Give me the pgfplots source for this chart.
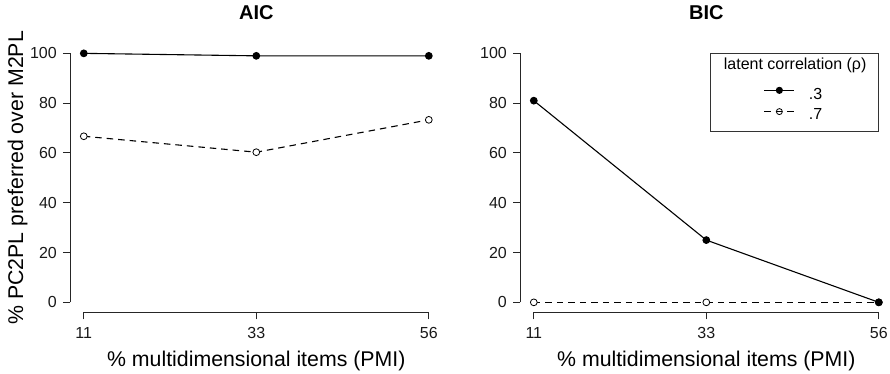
\documentclass[border=0pt]{standalone}
\usepackage{fontspec}
\setmainfont{Liberation Sans}
\usepackage{pgfplots}
\pgfplotsset{compat=1.18}
\pgfplotsset{
  rstyle/.style={
    scale only axis, width=372.6pt, height=268.9pt,
    xmin=-0.08, xmax=2.08, ymin=-4, ymax=104,
    axis x line*=bottom, axis y line*=left,
    axis line style={black!85, line width=0.9pt},
    x axis line style={shorten <=13.8pt, shorten >=13.8pt},
    y axis line style={shorten <=9.96pt, shorten >=9.96pt},
    tick style={black!85, line width=0.9pt},
    tick align=outside, major tick length=7pt,
    xtick={0,1,2}, xticklabels={11,33,56},
    ytick={0,20,40,60,80,100},
    /pgf/number format/assume math mode=true,
    ticklabel style={font=\fontsize{16}{19}\selectfont, text=black!90},
    yticklabel style={anchor=east, inner sep=0pt},
    xticklabel style={anchor=north, inner sep=0pt},
    yticklabel shift=6pt,
    xticklabel shift=7.7pt,
    title style={at={(axis description cs:0.5,1.0684)}, anchor=base, inner sep=0pt, font=\fontsize{20}{24}\selectfont\bfseries},
    xlabel style={at={(axis description cs:0.5,-0.1997)}, anchor=base, inner sep=0pt, font=\fontsize{21.3}{25}\selectfont},
    ylabel style={at={(axis description cs:-0.126,0.5)}, anchor=base, inner sep=0pt, font=\fontsize{21.3}{25}\selectfont},
    xlabel={\% multidimensional items (PMI)},
  },
  solidser/.style={black, line width=1.1pt, mark=*, mark size=3.3pt},
  dashser/.style={black, line width=1.1pt, dash pattern=on 6.5pt off 5pt, mark=*, mark size=3.4pt,
    mark options={solid, fill=white, line width=0.8pt}},
}
\begin{document}
\begin{tikzpicture}
\useasboundingbox (0pt,0pt) rectangle (890pt,374pt);
\begin{axis}[rstyle, at={(70pt,61.7pt)}, anchor=south west,
  title={AIC}, ylabel={\% PC2PL preferred over M2PL}]
\addplot[dashser] coordinates {(0,66.7) (1,60.3) (2,73.3)};
\addplot[solidser] coordinates {(0,100) (1,99) (2,99)};
\end{axis}
\begin{axis}[rstyle, at={(520pt,61.7pt)}, anchor=south west,
  title={BIC},
  legend style={at={(axis cs:2,100)}, anchor=north east, draw=black!80, line width=0.8pt,
    inner xsep=12pt, inner ysep=4.5pt, nodes={inner sep=0pt}, row sep=4pt, column sep=14pt,
    font=\fontsize{16}{19}\selectfont},
  legend cell align=left,
  legend image code/.code={\path (-41pt,5.7pt); \draw[mark repeat=2, mark phase=2, #1, mark size=3pt] plot coordinates {(0pt,5.7pt) (15pt,5.7pt) (30pt,5.7pt)};}]
\addlegendimage{empty legend}
\addlegendentry[text depth=13.5pt]{\hspace*{-85pt}latent correlation (ρ)}
\addlegendimage{solidser}
\addlegendentry[text height=11.5pt, text depth=4.5pt]{.3}
\addlegendimage{dashser, mark=o}
\addlegendentry[text height=11.5pt, text depth=7pt]{.7}
\addplot[dashser, forget plot] coordinates {(0,0) (1,0) (2,0)};
\addplot[solidser, forget plot] coordinates {(0,81) (1,25) (2,0)};
\end{axis}
\end{tikzpicture}
\end{document}
